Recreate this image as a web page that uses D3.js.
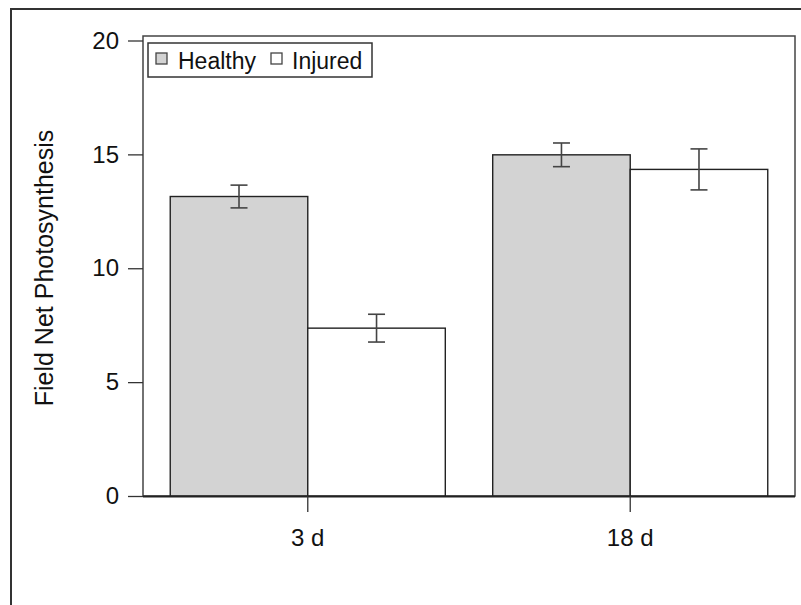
<!DOCTYPE html>
<html>
<head>
<meta charset="utf-8">
<script src="https://cdn.jsdelivr.net/npm/d3@7"></script>
<style>
  html, body { margin: 0; padding: 0; background: #fff; }
  svg { display: block; font-family: "Liberation Sans", Arial, sans-serif; }
</style>
</head>
<body>
<svg id="chart" width="801" height="605"></svg>
<script>
// Field net photosynthesis by time after injury
const timepoints = ["3 d", "18 d"];
const groups = ["Healthy", "Injured"];
const healthyMean = [13.15, 14.98];
const healthySE = [0.5, 0.52];
const injuredMean = [7.37, 14.34];
const injuredSE = [0.61, 0.9];
const yTicks = [0, 5, 10, 15, 20];
const groupFill = { Healthy: "#d3d3d3", Injured: "#ffffff" };

const rows = timepoints.map((t, i) => ({
  time: t,
  bars: [
    { group: "Healthy", mean: healthyMean[i], se: healthySE[i] },
    { group: "Injured", mean: injuredMean[i], se: injuredSE[i] }
  ]
}));

const svg = d3.select("#chart");
const plot = { left: 143, right: 795, top: 36, bottom: 496 };

const y = d3.scaleLinear().domain([0, 20]).range([496, 40.5]);
const x0 = d3.scaleBand().domain(timepoints)
  .range([plot.left, plot.right]).paddingInner(0.147).paddingOuter(0.0845);
const x1 = d3.scaleBand().domain(groups).range([0, x0.bandwidth()]);

// outer figure frame (top and left edges)
svg.append("path")
  .attr("d", "M11,605 L11,9 L801,9")
  .attr("fill", "none").attr("stroke", "#333").attr("stroke-width", 2);

// plot box
svg.append("rect")
  .attr("x", plot.left).attr("y", plot.top)
  .attr("width", plot.right - plot.left).attr("height", plot.bottom - plot.top)
  .attr("fill", "none").attr("stroke", "#444").attr("stroke-width", 1.5);

// bars
const g = svg.append("g").selectAll("g").data(rows).join("g")
  .attr("transform", d => `translate(${x0(d.time)},0)`);

g.selectAll("rect").data(d => d.bars).join("rect")
  .attr("x", d => x1(d.group))
  .attr("y", d => y(d.mean))
  .attr("width", x1.bandwidth())
  .attr("height", d => y(0) - y(d.mean))
  .attr("fill", d => groupFill[d.group])
  .attr("stroke", "#222").attr("stroke-width", 1.4);

// error bars
const capHalf = 8.5;
const eb = g.selectAll("g.err").data(d => d.bars).join("g").attr("class", "err")
  .attr("stroke", "#444").attr("stroke-width", 1.6);
eb.append("line")
  .attr("x1", d => x1(d.group) + x1.bandwidth() / 2)
  .attr("x2", d => x1(d.group) + x1.bandwidth() / 2)
  .attr("y1", d => y(d.mean + d.se)).attr("y2", d => y(d.mean - d.se));
eb.append("line")
  .attr("x1", d => x1(d.group) + x1.bandwidth() / 2 - capHalf)
  .attr("x2", d => x1(d.group) + x1.bandwidth() / 2 + capHalf)
  .attr("y1", d => y(d.mean + d.se)).attr("y2", d => y(d.mean + d.se));
eb.append("line")
  .attr("x1", d => x1(d.group) + x1.bandwidth() / 2 - capHalf)
  .attr("x2", d => x1(d.group) + x1.bandwidth() / 2 + capHalf)
  .attr("y1", d => y(d.mean - d.se)).attr("y2", d => y(d.mean - d.se));

// baseline
svg.append("line")
  .attr("x1", plot.left).attr("x2", plot.right)
  .attr("y1", y(0) + 0.5).attr("y2", y(0) + 0.5)
  .attr("stroke", "#222").attr("stroke-width", 2);

// y axis
const yAxis = svg.append("g")
  .attr("transform", `translate(${plot.left},0)`)
  .call(d3.axisLeft(y).tickValues(yTicks).tickSize(15).tickPadding(9));
yAxis.select(".domain").remove();
yAxis.selectAll(".tick line").attr("stroke", "#333").attr("stroke-width", 1.3);
yAxis.selectAll("text").attr("font-size", 24).attr("fill", "#111")
  .attr("font-family", "Liberation Sans, Arial, sans-serif");

// x axis
const xAxis = svg.append("g")
  .attr("transform", `translate(0,${plot.bottom})`)
  .call(d3.axisBottom(x0).tickSize(16).tickPadding(17));
xAxis.select(".domain").remove();
xAxis.selectAll(".tick line").attr("stroke", "#333").attr("stroke-width", 1.3);
xAxis.selectAll("text").attr("font-size", 24).attr("fill", "#111")
  .attr("font-family", "Liberation Sans, Arial, sans-serif");

// y axis title
svg.append("text")
  .attr("transform", "translate(53,268) rotate(-90)")
  .attr("text-anchor", "middle")
  .attr("font-size", 25).attr("fill", "#111")
  .text("Field Net Photosynthesis");

// legend
const legend = svg.append("g");
legend.append("rect")
  .attr("x", 148).attr("y", 43).attr("width", 224).attr("height", 34)
  .attr("fill", "#fff").attr("stroke", "#333").attr("stroke-width", 1.5);
const legendPos = [{ sx: 156, tx: 178 }, { sx: 271, tx: 292 }];
const li = legend.selectAll("g.item").data(groups).join("g").attr("class", "item");
li.append("rect")
  .attr("x", (d, i) => legendPos[i].sx).attr("y", 53)
  .attr("width", 11).attr("height", 11)
  .attr("fill", d => groupFill[d]).attr("stroke", "#444").attr("stroke-width", 1.3);
li.append("text")
  .attr("x", (d, i) => legendPos[i].tx).attr("y", 69)
  .attr("font-size", 23).attr("fill", "#111")
  .text(d => d);
</script>
</body>
</html>
